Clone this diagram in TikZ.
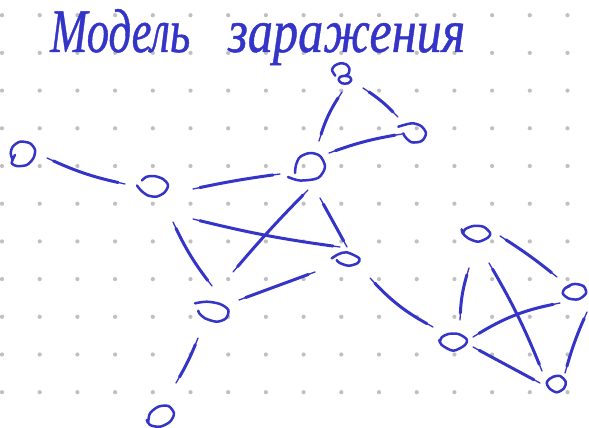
\documentclass[tikz,border=0pt]{standalone}
\usepackage{fontspec}
\usepackage{graphicx}
\usetikzlibrary{calc}
\newfontfamily\handfont{Liberation Serif}[FakeBold=0.8]
\definecolor{ink}{RGB}{52,52,200}
\definecolor{dotgray}{RGB}{192,192,192}
\begin{document}
\begin{tikzpicture}[x=1pt,y=-1pt,
  loopline/.style={draw=ink, line width=2.5pt, line cap=round, line join=round},
  edge/.style={draw=ink, line width=1.3pt, line cap=round,
    preaction={draw=ink, line width=3pt, line cap=round, shorten <=7pt, shorten >=7pt}},
  titletext/.style={anchor=base west, inner sep=0pt, text=ink}]

% paper with dotted grid
\fill[white] (0,0) rectangle (589,428);
\useasboundingbox (0,0) rectangle (589,428);
\foreach \i in {0,...,15}
  \foreach \j in {0,...,10}
    \fill[dotgray] (2+37.7*\i, 15.2+37.7*\j) circle (2.1);

% title
\node[titletext] (t1) at (50,52) {\resizebox{140pt}{43pt}{\handfont\itshape Модель}};
\node[titletext] (t2) at (228,52) {\resizebox{237pt}{29pt}{\handfont\itshape заражения}};

% vertex positions
\coordinate (A) at (23,154);
\coordinate (B) at (153,186);
\coordinate (C) at (307,167);
\coordinate (D) at (342,74);
\coordinate (E) at (412,133);
\coordinate (F) at (346,260);
\coordinate (G) at (213,313);
\coordinate (H) at (161,416);
\coordinate (I) at (453,342);
\coordinate (J) at (475,233);
\coordinate (K) at (574,291);
\coordinate (L) at (556,384);

% hand-drawn vertex loops
\draw[loopline, shift={(A)}] plot[smooth] coordinates {(-8,1) (-9.7,4.3) (-11.3,9.3) (-6.3,12) (3.7,11) (10.3,4.3) (12,-4) (7,-10.7) (-3,-12.3) (-10.3,-7.3) (-12.3,-0.7) (-10.3,6)};
\draw[loopline, shift={(B)}] plot[smooth] coordinates {(-16,-0.5) (-12,4.5) (-5,9.5) (4,10.5) (12,6) (15,-1) (10,-7) (1,-10) (-7,-9) (-11,-5.5)};
\draw[loopline, shift={(C)}] plot[smooth] coordinates {(-19,10) (-7,13.5) (11,11) (18,0) (13,-11) (3,-14) (-7,-10) (-11,-2) (-12,6)};
\draw[loopline, shift={(D)}] plot[smooth] coordinates {(-6.7,1.7) (-10,-4) (-7.3,-8.3) (-1.7,-10.7) (4,-9.7) (7.3,-5.7) (6.7,-0.7) (3.3,1.7) (-1.7,2.7) (-3.3,6) (0,9.3) (6,9.3) (9.3,6) (7.3,2.7) (3.3,2)};
\draw[loopline, shift={(E)}] plot[smooth] coordinates {(-13.7,-6.3) (-0.3,-9.7) (9,-7) (14,0.3) (9.7,8) (-0.3,9.3) (-7,3.7) (-8.7,0.3)};
\draw[loopline, shift={(F)}] plot[smooth] coordinates {(-14.3,-1.7) (-7.7,-5.7) (0.7,-7.7) (13.3,-1.7) (11.3,3.3) (2.3,5.7) (-6.7,2.7) (-9.3,0)};
\draw[loopline, shift={(G)}] plot[smooth] coordinates {(-18,-9.7) (-6.3,-11.3) (7,-9) (15.3,-3) (13,5.3) (3.7,8.7) (-8,5.3) (-13.7,0.3) (-14.7,-2.3)};
\draw[loopline, shift={(H)}] plot[smooth] coordinates {(-12.7,5.7) (-11,-2.7) (-2.7,-9.3) (7.3,-10) (13,-2.7) (9,5.7) (-1,10.7) (-11,9) (-14.3,4)};
\draw[loopline, shift={(I)}] plot[smooth] coordinates {(-13.7,-2) (-11.3,3) (0.3,8.7) (12,3) (13.7,-2.7) (5.3,-8) (-4.7,-8) (-11.3,-4.7) (-13,-0.3)};
\draw[loopline, shift={(J)}] plot[smooth] coordinates {(-13.3,-3.7) (-12.3,0.3) (-6.7,5.3) (3.3,8.7) (13.3,4.3) (15,-0.3) (8.3,-6.3) (-1.7,-7) (-10,-3.7) (-11.7,0.3)};
\draw[loopline, shift={(K)}] plot[smooth] coordinates {(-9,-2.7) (-0.7,-7) (9.3,-5) (12,2.3) (4.3,8.3) (-5.7,7.3) (-11.3,2.3) (-9,-2.7) (-4,-5)};
\draw[loopline, shift={(L)}] plot[smooth] coordinates {(-6,-5.7) (-9.3,-1.3) (-6.7,4.3) (0.7,8.3) (8,4.3) (9.7,-2.3) (4,-8) (-2.7,-7.3) (-7.7,-4)};

% connections
\draw[edge] ($(A)+(24,4)$) to[bend right=6] ($(B)+(-28,-2)$);
\draw[edge] ($(B)+(40,3)$) to[bend left=2] ($(C)+(-27,7)$);
\draw[edge] ($(B)+(40,33)$) to[bend right=3] ($(F)+(-6,-13)$);
\draw[edge] ($(B)+(20,36)$) to[bend right=6] ($(G)+(-1,-27)$);
\draw[edge] ($(C)+(1,23)$) to[bend right=2] ($(G)+(20,-41)$);
\draw[edge] ($(C)+(13,31)$) to ($(F)+(1,-13)$);
\draw[edge] ($(G)+(26,-13)$) to ($(F)+(-31,12)$);
\draw[edge] ($(G)+(-15,25)$) to[bend left=4] ($(H)+(15,-33)$);
\draw[edge] ($(C)+(12,-26)$) to[bend left=8] ($(D)+(0,18)$);
\draw[edge] ($(D)+(21,14)$) to[bend left=6] ($(E)+(-14,-16)$);
\draw[edge] ($(C)+(22,-14)$) to[bend left=5] ($(E)+(-10,1)$);
\draw[edge] ($(F)+(24,18)$) to[bend right=9] ($(I)+(-20,-15)$);
\draw[edge] ($(J)+(25,3)$) to[bend left=3] ($(K)+(-17,-14)$);
\draw[edge] ($(J)+(-6,35)$) to[bend right=7] ($(I)+(7,-22)$);
\draw[edge] ($(J)+(14,30)$) to[bend left=4] ($(L)+(-14,-13)$);
\draw[edge] ($(K)+(-14,12)$) to[bend right=10] ($(I)+(20,-5)$);
\draw[edge] ($(K)+(13,21)$) to[bend right=4] ($(L)+(9,-11)$);
\draw[edge] ($(I)+(20,5)$) to ($(L)+(-16,-1)$);
\end{tikzpicture}
\end{document}
